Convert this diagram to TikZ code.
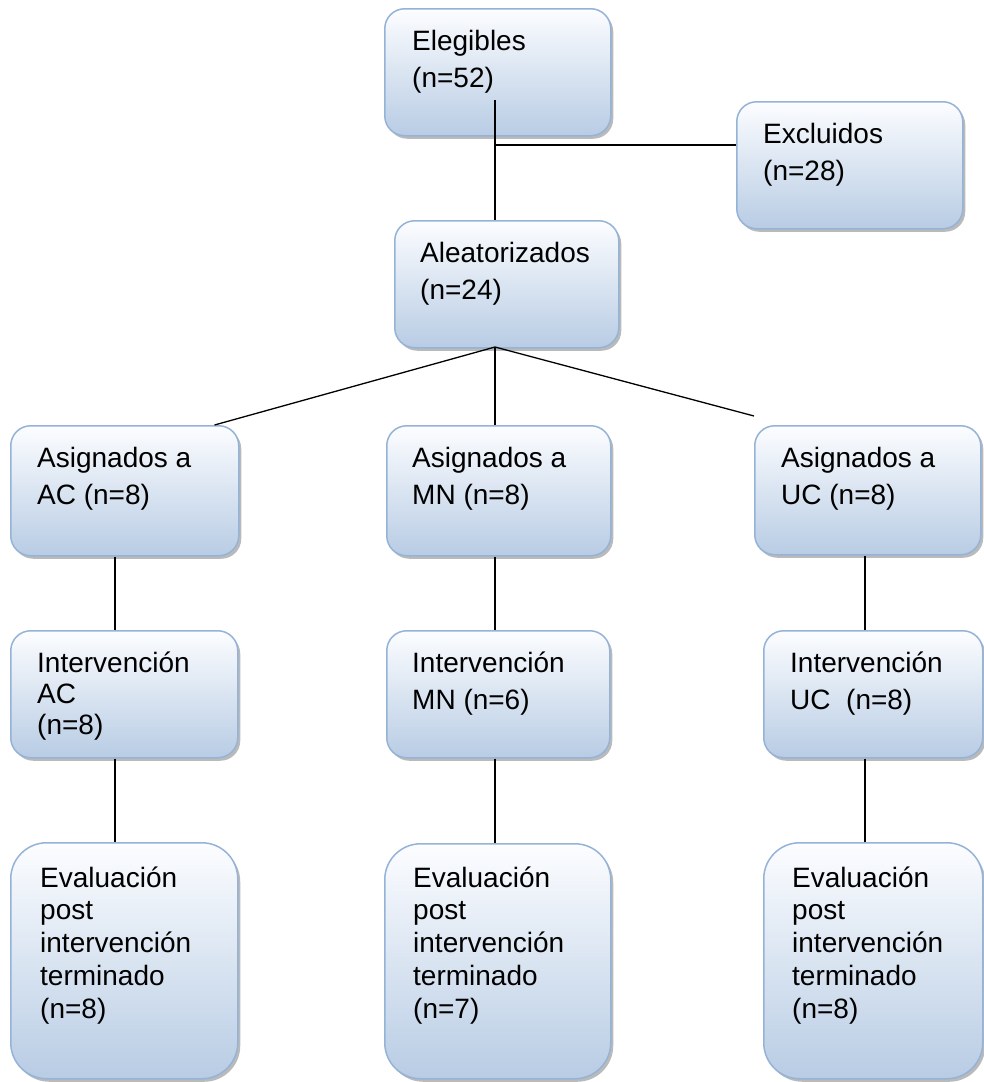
\documentclass[tikz,border=0pt]{standalone}
\usepackage{fontspec}
\setmainfont{Liberation Sans}
\usetikzlibrary{shadows,calc}
\definecolor{boxline}{RGB}{149,179,215}
\definecolor{boxtop}{RGB}{252,253,255}
\definecolor{boxbot}{RGB}{184,204,228}
\tikzset{
  box/.style={draw=boxline, line width=1.5pt, rounded corners=20pt,
    top color=boxtop, bottom color=boxbot, anchor=north west, inner sep=0pt,
    drop shadow={shadow xshift=2.5pt, shadow yshift=-3pt, fill=black!45, opacity=0.6}},
  tallbox/.style={box, rounded corners=36pt},
  txt/.style={anchor=north west, inner sep=0pt, align=left,
    font=\fontsize{28}{37.5}\selectfont},
  txttight/.style={txt, font=\fontsize{28}{31}\selectfont},
  txteval/.style={txt, font=\fontsize{28}{32.7}\selectfont},
  link/.style={draw=black, line width=1.3pt}
}
\newcommand{\fs}{\rule{0pt}{22pt}}
\begin{document}
\begin{tikzpicture}[x=1pt,y=-1pt]
\useasboundingbox (0,0) rectangle (984,1082);
% boxes
\node[box, minimum width=226pt, minimum height=127pt] (elig) at (384,8) {};
\node[box, minimum width=226pt, minimum height=127pt] (excl) at (736,101) {};
\node[box, minimum width=224pt, minimum height=127pt] (alea) at (394,220) {};
\node[box, minimum width=228pt, minimum height=130pt] (asAC) at (10,425) {};
\node[box, minimum width=224pt, minimum height=130pt] (asMN) at (386,425) {};
\node[box, minimum width=226pt, minimum height=129pt] (asUC) at (754,425) {};
\node[box, minimum width=227pt, minimum height=127pt] (inAC) at (10,630) {};
\node[box, minimum width=223pt, minimum height=127pt] (inMN) at (386,630) {};
\node[box, minimum width=219pt, minimum height=127pt] (inUC) at (763,630) {};
\node[tallbox, minimum width=227pt, minimum height=236pt] (evAC) at (10,842) {};
\node[tallbox, minimum width=226pt, minimum height=235pt] (evMN) at (384,843) {};
\node[tallbox, minimum width=219pt, minimum height=236pt] (evUC) at (763,842) {};
% texts
\node[txt] (teli) at ($(elig.north west)+(28,20)$) {\fs Elegibles\\(n=52)};
\node[txt] (texc) at ($(excl.north west)+(27,20)$) {\fs Excluidos\\(n=28)};
\node[txt] (tale) at ($(alea.north west)+(26,20)$) {\fs Aleatorizados\\(n=24)};
\node[txt] (tsAC) at ($(asAC.north west)+(27,20)$) {\fs Asignados a\\AC (n=8)};
\node[txt] (tsMN) at ($(asMN.north west)+(26,20)$) {\fs Asignados a\\MN (n=8)};
\node[txt] (tsUC) at ($(asUC.north west)+(27,20)$) {\fs Asignados a\\UC (n=8)};
\node[txttight] (tiAC) at ($(inAC.north west)+(27,20)$) {\fs Intervención\\AC\\(n=8)};
\node[txt] (tiMN) at ($(inMN.north west)+(26,20)$) {\fs Intervención\\MN (n=6)};
\node[txt] (tiUC) at ($(inUC.north west)+(27,20)$) {\fs Intervención\\UC\ \ (n=8)};
\node[txteval] (teAC) at ($(evAC.north west)+(30,23)$) {\fs Evaluación\\post\\intervención\\terminado\\(n=8)};
\node[txteval] (teMN) at ($(evMN.north west)+(29,22)$) {\fs Evaluación\\post\\intervención\\terminado\\(n=7)};
\node[txteval] (teUC) at ($(evUC.north west)+(29,23)$) {\fs Evaluación\\post\\intervención\\terminado\\(n=8)};
% connectors
\coordinate (cA) at (115,0);
\coordinate (cM) at (495,0);
\coordinate (cU) at (865,0);
\coordinate (e1) at (495,100);
\coordinate (jn) at (495,145);
\coordinate (ab) at (495,347);
\coordinate (ucend) at (754,416);
\draw[link] (e1) -- (e1 |- alea.north);
\draw[link] (jn) -- (jn -| excl.west);
\draw[link] (ab) -- ($(asAC.north east)+(-25,0)$);
\draw[link] (ab) -- (ab |- asMN.north);
\draw[link] (ab) -- (ucend);
\draw[link] (asAC.south -| cA) -- (inAC.north -| cA);
\draw[link] (inAC.south -| cA) -- (evAC.north -| cA);
\draw[link] (asMN.south -| cM) -- (inMN.north -| cM);
\draw[link] (inMN.south -| cM) -- (evMN.north -| cM);
\draw[link] (asUC.south -| cU) -- (inUC.north -| cU);
\draw[link] (inUC.south -| cU) -- (evUC.north -| cU);
\end{tikzpicture}
\end{document}
